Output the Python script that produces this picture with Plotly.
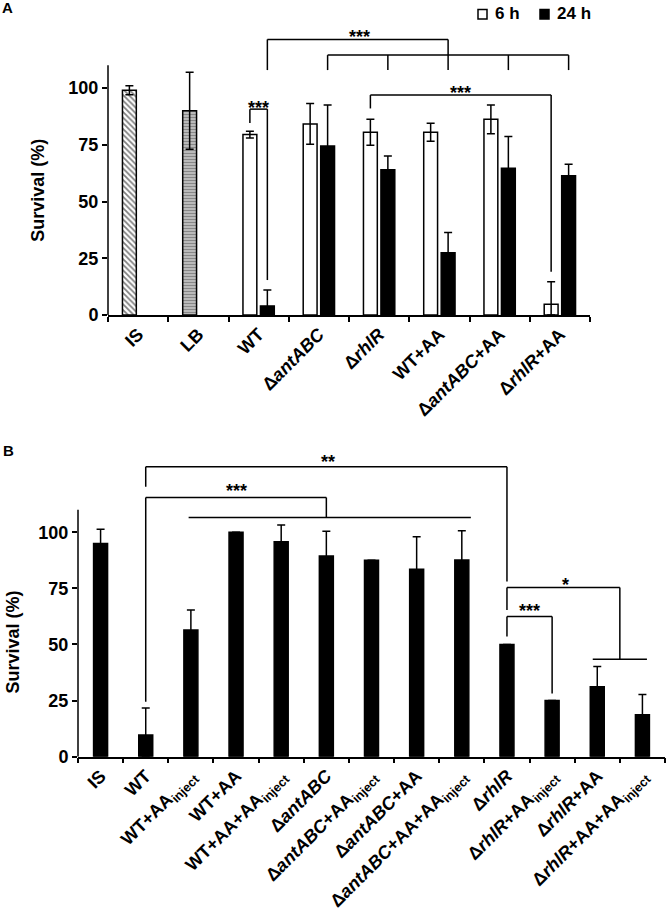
import plotly.graph_objects as go

# ---------------- Panel A data ----------------
a_controls = ["IS", "LB"]
a_control_vals = [99, 90]
a_control_err = [2, 17]
a_control_patterns = ["\\", "-"]

a_strains = ["WT", "ΔantABC", "ΔrhlR", "WT+AA", "ΔantABC+AA", "ΔrhlR+AA"]
a_6h = [79.5, 84.2, 80.5, 80.5, 86.2, 4.7]
a_6h_err = [1.5, 9, 5.7, 4, 6.3, 10]
a_24h = [4, 74.5, 64, 27.4, 64.6, 61.4]
a_24h_err = [7, 18, 6, 9, 14, 5]

a_categories = a_controls + a_strains
a_tick_labels = ["IS", "LB", "WT", "Δ<i>antABC</i>", "Δ<i>rhlR</i>", "WT+AA",
                 "Δ<i>antABC</i>+AA", "Δ<i>rhlR</i>+AA"]

# ---------------- Panel B data ----------------
b_categories = ["IS", "WT", "WT+AAinject", "WT+AA", "WT+AA+AAinject",
                "ΔantABC", "ΔantABC+AAinject", "ΔantABC+AA", "ΔantABC+AA+AAinject",
                "ΔrhlR", "ΔrhlR+AAinject", "ΔrhlR+AA", "ΔrhlR+AA+AAinject"]
b_tick_labels = ["IS", "WT", "WT+AA<sub>inject</sub>", "WT+AA", "WT+AA+AA<sub>inject</sub>",
                 "Δ<i>antABC</i>", "Δ<i>antABC</i>+AA<sub>inject</sub>", "Δ<i>antABC</i>+AA",
                 "Δ<i>antABC</i>+AA+AA<sub>inject</sub>",
                 "Δ<i>rhlR</i>", "Δ<i>rhlR</i>+AA<sub>inject</sub>", "Δ<i>rhlR</i>+AA",
                 "Δ<i>rhlR</i>+AA+AA<sub>inject</sub>"]
b_vals = [95, 9.7, 56.4, 100, 95.8, 89.4, 87.5, 83.5, 87.6, 50, 25, 31.2, 18.7]
b_err = [6.3, 12, 9, 0, 7.4, 11, 0, 14.5, 13, 0, 0, 9, 9]

y_ticks = [0, 25, 50, 75, 100]

FONT = "Liberation Sans, Arial, sans-serif"


def minus(vals, errs):
    return [min(v, e) for v, e in zip(vals, errs)]


def err(vals, errs):
    return dict(type="data", array=errs, arrayminus=minus(vals, errs), visible=True,
                color="black", thickness=1.5, width=4)


fig = go.Figure()

fig.add_trace(go.Bar(
    x=a_controls, y=a_control_vals, xaxis="x", yaxis="y",
    offset=-0.26, width=0.23,
    marker=dict(color="white", line=dict(color="black", width=1.5),
                pattern=dict(shape=a_control_patterns, fgcolor=["black", "#111111"],
                             bgcolor="white", size=[4, 3], solidity=[0.45, 0.72])),
    error_y=err(a_control_vals, a_control_err), showlegend=False))

fig.add_trace(go.Bar(
    x=a_strains, y=a_6h, name="6 h", xaxis="x", yaxis="y",
    offset=-0.26, width=0.23,
    marker=dict(color="white", line=dict(color="black", width=1.5)),
    error_y=err(a_6h, a_6h_err), showlegend=False))

fig.add_trace(go.Bar(
    x=a_strains, y=a_24h, name="24 h", xaxis="x", yaxis="y",
    offset=0.03, width=0.23,
    marker=dict(color="black", line=dict(color="black", width=1.5)),
    error_y=err(a_24h, a_24h_err), showlegend=False))

fig.add_trace(go.Bar(
    x=b_categories, y=b_vals, xaxis="x2", yaxis="y2", width=0.31,
    marker=dict(color="black", line=dict(color="black", width=1.5)),
    error_y=err(b_vals, b_err), showlegend=False))

tickfont = dict(family=FONT, size=18, color="black", weight="bold")

axis_common = dict(showgrid=False, zeroline=False, ticks="outside", ticklen=5,
                   tickwidth=1.5, tickcolor="black", automargin=False, tickfont=tickfont)

fig.update_layout(
    width=666, height=910, margin=dict(l=0, r=0, t=0, b=0),
    plot_bgcolor="white", paper_bgcolor="white", barmode="overlay",
    showlegend=False,
    xaxis=dict(domain=[108 / 666, 590 / 666], anchor="y", type="category",
               categoryorder="array", categoryarray=a_categories,
               tickmode="array", tickvals=a_categories, ticktext=a_tick_labels,
               tickson="boundaries", tickangle=-45, showline=True, linewidth=1.5,
               linecolor="black", range=[-0.5, len(a_categories) - 0.5], **axis_common),
    yaxis=dict(domain=[1 - 315 / 910, 1 - 29 / 910], anchor="x", range=[0, 126],
               tickmode="array", tickvals=y_ticks, showline=False, **axis_common),
    xaxis2=dict(domain=[78 / 666, 665 / 666], anchor="y2", type="category",
                categoryorder="array", categoryarray=b_categories,
                tickmode="array", tickvals=b_categories, ticktext=b_tick_labels,
                tickson="boundaries", tickangle=-45, showline=True, linewidth=1.5,
                linecolor="black", range=[-0.5, len(b_categories) - 0.5], **axis_common),
    yaxis2=dict(domain=[1 - 756.7 / 910, 1 - 451.4 / 910], anchor="x2", range=[0, 136],
                tickmode="array", tickvals=y_ticks, showline=False, **axis_common),
)

shapes = []


def seg(xr, yr, x0, y0, x1, y1):
    shapes.append(dict(type="line", xref=xr, yref=yr, x0=x0, y0=y0, x1=x1, y1=y1,
                       line=dict(color="black", width=1.5)))


# y axis lines (up to 110)
seg("x domain", "y", 0, 0, 0, 110)
seg("x2 domain", "y2", 0, 0, 0, 110)

# ----- Panel A brackets -----
o6, o24 = -0.145, 0.145
seg("x", "y", 2 + o6, 90.7, 2 + o24, 90.7)
seg("x", "y", 2 + o6, 90.7, 2 + o6, 84.6)
seg("x", "y", 2 + o24, 90.7, 2 + o24, 15.4)
seg("x", "y", 2 + o24, 121.4, 5 + o24, 121.4)
seg("x", "y", 2 + o24, 121.4, 2 + o24, 107.9)
seg("x", "y", 5 + o24, 121.4, 5 + o24, 114.5)
seg("x", "y", 3 + o24, 114.5, 7 + o24, 114.5)
for k in range(3, 8):
    seg("x", "y", k + o24, 114.5, k + o24, 107.9)
seg("x", "y", 4 + o6, 96.9, 7 + o6, 96.9)
seg("x", "y", 4 + o6, 96.9, 4 + o6, 91)
seg("x", "y", 7 + o6, 96.9, 7 + o6, 19)

# ----- Panel B brackets -----
seg("x2", "y2", 1, 129.2, 9, 129.2)
seg("x2", "y2", 1, 129.2, 1, 120.3)
seg("x2", "y2", 9, 129.2, 9, 78)

seg("x2", "y2", 1, 115.5, 5, 115.5)
seg("x2", "y2", 1, 115.5, 1, 24.5)
seg("x2", "y2", 5, 115.5, 5, 106.5)
seg("x2", "y2", 1.95, 106.5, 8.2, 106.5)

seg("x2", "y2", 9, 75.4, 11.5, 75.4)
seg("x2", "y2", 9, 75.4, 9, 65.3)
seg("x2", "y2", 11.5, 75.4, 11.5, 43.4)
seg("x2", "y2", 10.9, 43.4, 12.1, 43.4)

seg("x2", "y2", 9, 62.4, 10, 62.4)
seg("x2", "y2", 9, 62.4, 9, 53.5)
seg("x2", "y2", 10, 62.4, 10, 28.2)

# manual legend boxes
shapes.append(dict(type="rect", xref="paper", yref="paper",
                   x0=478 / 666, x1=487 / 666, y0=1 - 19 / 910, y1=1 - 9.5 / 910,
                   line=dict(color="black", width=1.5), fillcolor="white"))
shapes.append(dict(type="rect", xref="paper", yref="paper",
                   x0=540 / 666, x1=549 / 666, y0=1 - 19 / 910, y1=1 - 9.5 / 910,
                   line=dict(color="black", width=1.5), fillcolor="black"))

fig.update_layout(shapes=shapes)

annots = []
star_font = dict(family=FONT, size=18, color="black", weight="bold")


def star(xr, yr, x, y, txt):
    annots.append(dict(xref=xr, yref=yr, x=x, y=y, text=txt, showarrow=False,
                       xanchor="center", yanchor="middle", font=star_font))


star("x", "y", 2, 91.2, "***")
star("x", "y", 3.68, 122.5, "***")
star("x", "y", 5.355, 97.8, "***")
star("x2", "y2", 5.04, 131.3, "**")
star("x2", "y2", 3.02, 118.5, "***")
star("x2", "y2", 10.3, 76.5, "*")
star("x2", "y2", 9.49, 64.8, "***")

title_font = dict(family=FONT, size=18, color="black", weight="bold")
annots.append(dict(xref="paper", yref="paper", x=38 / 666, y=1 - 190.8 / 910,
                   text="Survival (%)", textangle=-90, showarrow=False,
                   xanchor="center", yanchor="middle", font=title_font))
annots.append(dict(xref="paper", yref="paper", x=12 / 666, y=1 - 642.5 / 910,
                   text="Survival (%)", textangle=-90, showarrow=False,
                   xanchor="center", yanchor="middle", font=title_font))

letter_font = dict(family=FONT, size=15, color="black", weight="bold")
annots.append(dict(xref="paper", yref="paper", x=0, y=1 - 8 / 910, text="A",
                   showarrow=False, xanchor="left", yanchor="middle", font=letter_font))
annots.append(dict(xref="paper", yref="paper", x=1 / 666, y=1 - 450 / 910, text="B",
                   showarrow=False, xanchor="left", yanchor="middle", font=letter_font))

legend_font = dict(family=FONT, size=17, color="black", weight="bold")
annots.append(dict(xref="paper", yref="paper", x=493 / 666, y=1 - 14 / 910, text="6 h",
                   showarrow=False, xanchor="left", yanchor="middle", font=legend_font))
annots.append(dict(xref="paper", yref="paper", x=555 / 666, y=1 - 14 / 910, text="24 h",
                   showarrow=False, xanchor="left", yanchor="middle", font=legend_font))

fig.update_layout(annotations=annots)

fig.write_html("out.html", config={"displayModeBar": False},
               post_script="document.body.style.margin='0px';")
